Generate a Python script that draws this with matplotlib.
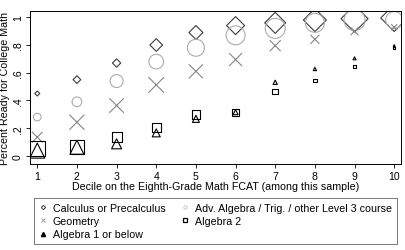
import matplotlib
matplotlib.use("Agg")
import matplotlib.pyplot as plt
from matplotlib.lines import Line2D
import numpy as np

plt.rcParams['font.family'] = ['Liberation Sans', 'DejaVu Sans']

# decile of 8th grade FCAT
deciles = [1, 2, 3, 4, 5, 6, 7, 8, 9, 10]

# share ready for college math, by highest course taken
calc = [0.45, 0.55, 0.67, 0.80, 0.89, 0.94, 0.96, 0.98, 0.99, 0.995]
adv_alg = [0.28, 0.39, 0.54, 0.68, 0.78, 0.87, 0.92, 0.96, 0.98, 0.98]
geom = [0.135, 0.243, 0.363, 0.512, 0.61, 0.695, 0.795, 0.841, 0.899, 0.928]
alg2 = [0.05, 0.067, 0.135, 0.204, 0.298, 0.312, 0.464, 0.546, 0.647, 0.776]
alg1 = [0.038, 0.062, 0.087, 0.166, 0.267, 0.315, 0.531, 0.627, 0.704, 0.795]

# relative number of students in each cell (marker area)
w_calc = [25, 59, 69, 161, 196, 324, 441, 529, 729, 729]
w_adv = [59, 94, 169, 216, 289, 361, 400, 361, 441, 289]
w_geom = [114, 225, 210, 246, 196, 169, 121, 81, 64, 36]
w_alg2 = [225, 196, 100, 81, 76, 49, 32, 11, 9, 4]
w_alg1 = [225, 196, 100, 64, 49, 25, 18, 11, 9, 4]

fig = plt.figure(figsize=(4.05, 2.51), dpi=100)
ax = fig.add_axes([0.074, 0.343, 0.916, 0.609])

px2 = 1.389 ** 2  # px^2 -> pt^2
ax.scatter(deciles, calc, s=np.array(w_calc) / px2 / 2, marker='D',
           facecolors='none', edgecolors='#3c3c3c', linewidths=0.8)
ax.scatter(deciles, adv_alg, s=np.array(w_adv) / px2, marker='o',
           facecolors='none', edgecolors='#ababab', linewidths=0.8)
ax.scatter(deciles, geom, s=np.array(w_geom) / px2, marker='x',
           color='#858585', linewidths=0.8)
ax.scatter(deciles, alg2, s=np.array(w_alg2) / px2, marker='s',
           facecolors='none', edgecolors='black', linewidths=0.8)
ax.scatter(deciles, alg1, s=np.array(w_alg1) / px2, marker='^',
           facecolors='none', edgecolors='black', linewidths=0.8)

ax.set_xlim(0.816, 10.17)
ax.set_ylim(-0.058, 1.045)
ax.set_xticks(deciles)
ax.set_yticks([0, 0.2, 0.4, 0.6, 0.8, 1])
ax.set_yticklabels(['0', '.2', '.4', '.6', '.8', '1'], rotation=90, va='center')
ax.tick_params(labelsize=7.6, length=3, width=0.6, pad=2)
for sp in ax.spines.values():
    sp.set_linewidth(0.7)
ax.set_xlabel('Decile on the Eighth-Grade Math FCAT (among this sample)', fontsize=7.7, labelpad=0)
ax.set_ylabel('Percent Ready for College Math', fontsize=7.7, labelpad=2)

handles = [
    Line2D([], [], ls='none', marker='D', ms=2.2, mfc='none', mec='#3c3c3c', mew=0.7,
           label='Calculus or Precalculus'),
    Line2D([], [], ls='none', marker='x', ms=2.5, color='#a0a0a0', mew=0.7,
           label='Geometry'),
    Line2D([], [], ls='none', marker='^', ms=3, color='black',
           label='Algebra 1 or below'),
    Line2D([], [], ls='none', marker='o', ms=2.5, mfc='none', mec='#c8c8c8', mew=0.7,
           label='Adv. Algebra / Trig. / other Level 3 course'),
    Line2D([], [], ls='none', marker='s', ms=2.5, mfc='none', mec='black', mew=0.9,
           label='Algebra 2'),
]
leg = fig.legend(handles=handles, ncol=2, loc='upper left',
                 bbox_to_anchor=(0.084, 0.024, 0.896, 0.183), mode='expand',
                 fontsize=7.7, frameon=True, fancybox=False, edgecolor='#555555',
                 handlelength=0.8, handletextpad=0.5, labelspacing=0.3,
                 borderpad=0.45, columnspacing=1.0, borderaxespad=0)
leg.get_frame().set_linewidth(0.7)

fig.savefig('out.png', dpi=100)
